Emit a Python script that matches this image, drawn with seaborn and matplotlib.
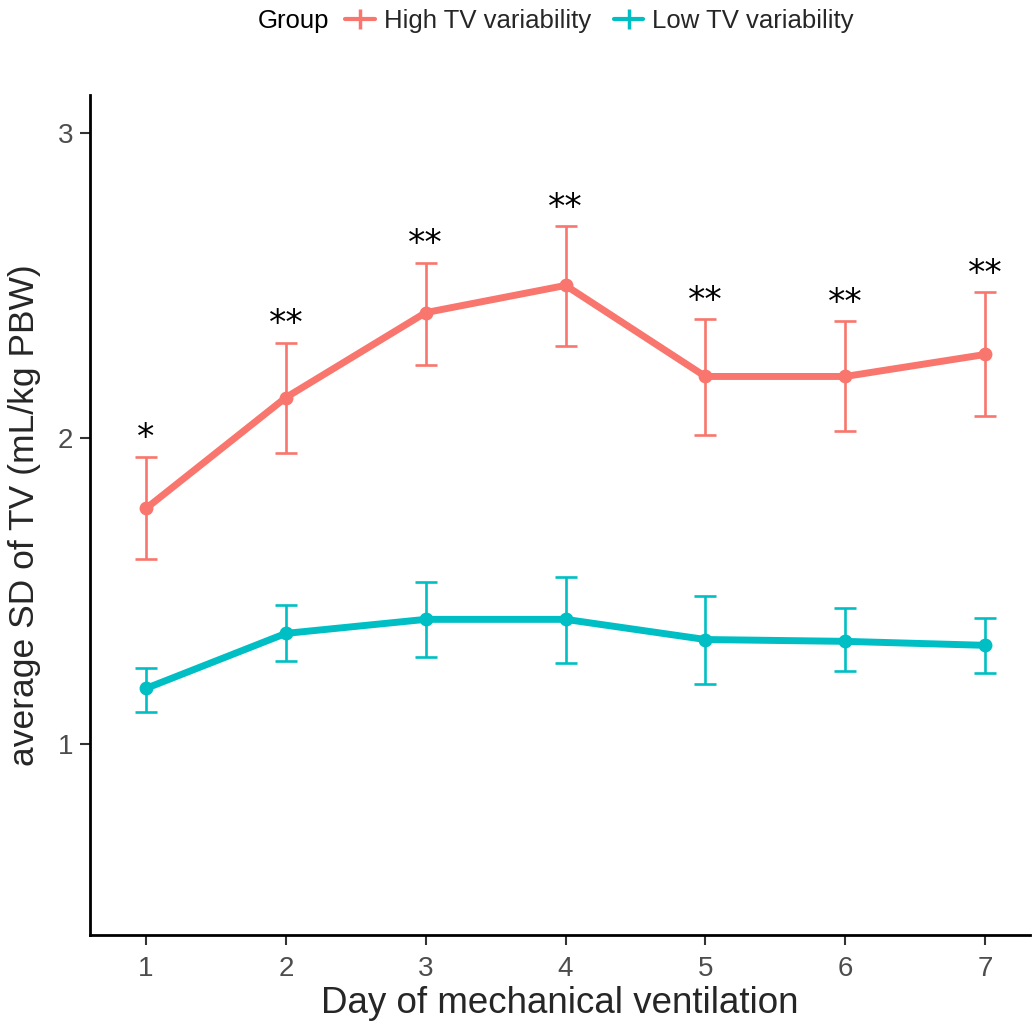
import matplotlib
matplotlib.use("Agg")
import matplotlib.pyplot as plt
from matplotlib.lines import Line2D
import seaborn as sns
import pandas as pd
import numpy as np

days = [1, 2, 3, 4, 5, 6, 7]
high_mean = [1.771, 2.134, 2.412, 2.501, 2.203, 2.203, 2.275]
high_upper = [1.941, 2.314, 2.576, 2.694, 2.390, 2.383, 2.478]
high_lower = [1.604, 1.951, 2.242, 2.304, 2.013, 2.023, 2.072]
low_mean = [1.182, 1.362, 1.408, 1.408, 1.342, 1.336, 1.323]
low_upper = [1.250, 1.455, 1.529, 1.547, 1.483, 1.444, 1.411]
low_lower = [1.105, 1.272, 1.284, 1.265, 1.196, 1.238, 1.232]
signif = ["*", "**", "**", "**", "**", "**", "**"]
groups = ["High TV variability", "Low TV variability"]
colors = {"High TV variability": "#F8766D", "Low TV variability": "#00BFC4"}

df = pd.DataFrame({
    "Day": days * 2,
    "Mean": high_mean + low_mean,
    "Upper": high_upper + low_upper,
    "Lower": high_lower + low_lower,
    "Group": [groups[0]] * 7 + [groups[1]] * 7,
})

sns.set_style("white")
plt.rcParams["font.family"] = ["Liberation Sans", "DejaVu Sans"]

fig = plt.figure(figsize=(10.35, 10.28), dpi=100)
ax = fig.add_axes([0.087, 0.0905, 0.908, 0.817])

for g in groups:
    sub = df[df.Group == g]
    ax.errorbar(sub.Day, sub.Mean,
                yerr=[sub.Mean - sub.Lower, sub.Upper - sub.Mean],
                fmt="none", ecolor=colors[g], elinewidth=1.9, capsize=8,
                capthick=1.9, zorder=2)

sns.lineplot(data=df, x="Day", y="Mean", hue="Group", palette=colors,
             marker="o", markersize=10, markeredgewidth=0, linewidth=5,
             ax=ax, legend=False, zorder=3)

for d, u, s in zip(days, high_upper, signif):
    ax.text(d, u + 0.028, s, ha="center", va="baseline", fontsize=25,
            color="black", family="DejaVu Sans")

ax.set_xlim(0.6, 7.32)
ax.set_ylim(0.375, 3.124)
ax.set_xticks(days)
ax.set_yticks([1, 2, 3])
ax.tick_params(axis="both", which="both", length=7, width=1.5,
               color="#333333", labelsize=20, labelcolor="#4D4D4D",
               bottom=True, left=True, pad=5)
ax.tick_params(axis="x", pad=8)
for side in ["top", "right"]:
    ax.spines[side].set_visible(False)
for side in ["left", "bottom"]:
    ax.spines[side].set_linewidth(2)
    ax.spines[side].set_color("black")
ax.set_xlabel("Day of mechanical ventilation", fontsize=26.5, labelpad=3)
ax.set_ylabel("average SD of TV (mL/kg PBW)", fontsize=25.5, labelpad=12)

handles = [Line2D([0], [0], color=colors[g], linewidth=3, marker="|",
                  markersize=15, markeredgewidth=2.5) for g in groups]
fig.text(258 / 1035, 1 - 21 / 1028, "Group", fontsize=18.5, ha="left",
         va="center", color="black")
fig.legend(handles, groups, loc="center left",
           bbox_to_anchor=(345 / 1035, 1 - 21 / 1028), ncol=2, frameon=False,
           fontsize=18.5, handlelength=1.15, handletextpad=0.35,
           columnspacing=0.9, borderaxespad=0, borderpad=0)

fig.savefig("out.png", dpi=100)
